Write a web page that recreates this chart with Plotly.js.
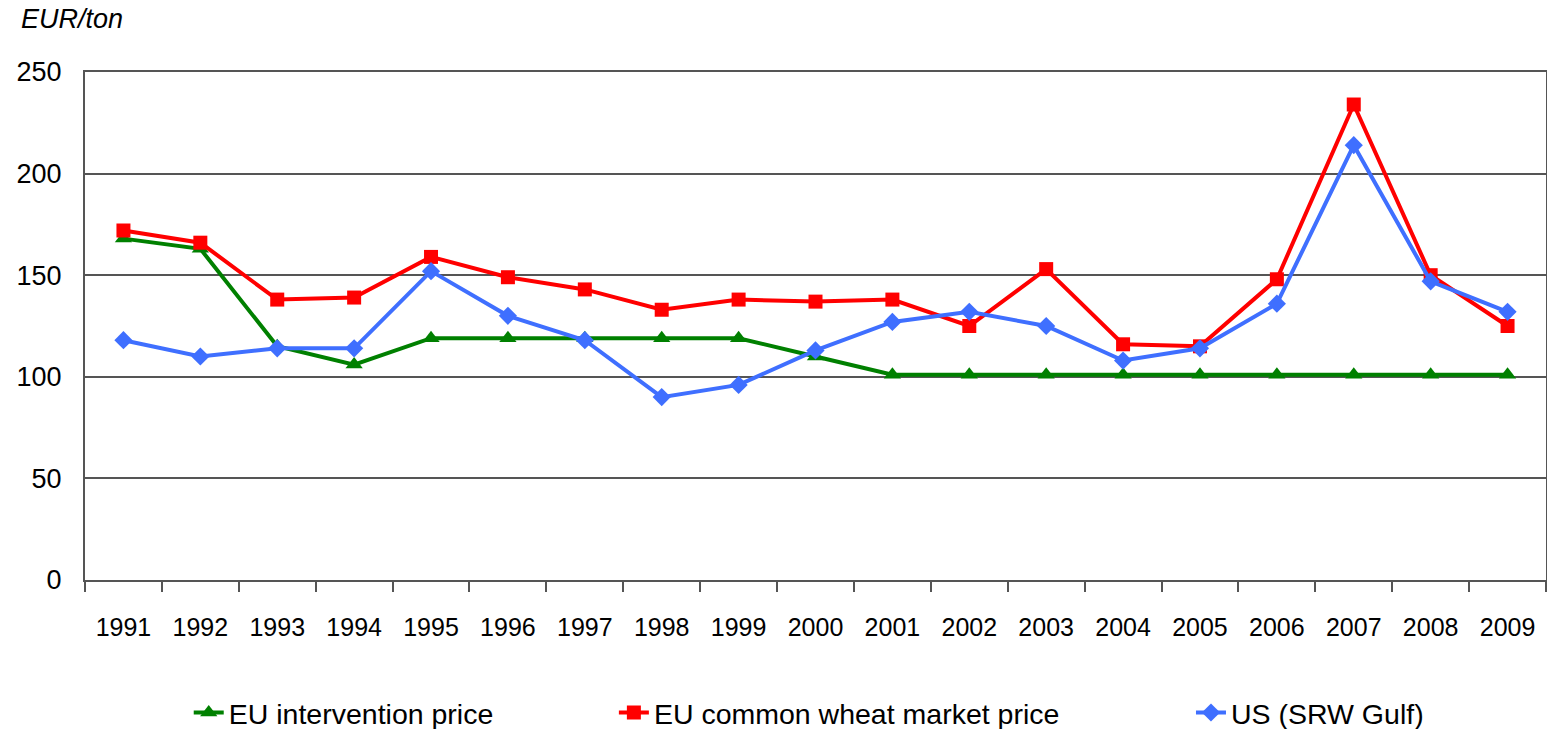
<!DOCTYPE html>
<html>
<head>
<meta charset="utf-8">
<script src="https://cdn.plot.ly/plotly-3.0.1.min.js"></script>
<style>
  html, body { margin: 0; padding: 0; background: #fff; }
  #chart { width: 1547px; height: 729px; }
</style>
</head>
<body>
<div id="chart"></div>
<script>
// years on the category axis
var years = ['1991', '1992', '1993', '1994', '1995', '1996', '1997', '1998', '1999', '2000',
             '2001', '2002', '2003', '2004', '2005', '2006', '2007', '2008', '2009'];

// EUR/ton
var euIntervention = [168, 163, 115, 106, 119, 119, 119, 119, 119, 110,
                      101, 101, 101, 101, 101, 101, 101, 101, 101];
var euMarket = [172, 166, 138, 139, 159, 149, 143, 133, 138, 137,
                138, 125, 153, 116, 115, 148, 234, 150, 125];
var usGulf = [118, 110, 114, 114, 152, 130, 118, 90, 96, 113,
              127, 132, 125, 108, 114, 136, 214, 147, 132];

var seriesNames = ['EU intervention price', 'EU common wheat market price', 'US (SRW Gulf)'];

var font = 'Liberation Sans, Arial, sans-serif';

var traces = [
    {
        x: years, y: euIntervention, name: seriesNames[0],
        type: 'scatter', mode: 'lines+markers',
        line: {color: '#008000', width: 4},
        marker: {symbol: 'triangle-up', size: 15, color: '#008000'},
        legend: 'legend'
    },
    {
        x: years, y: euMarket, name: seriesNames[1],
        type: 'scatter', mode: 'lines+markers',
        line: {color: '#ff0000', width: 4},
        marker: {symbol: 'square', size: 14, color: '#ff0000'},
        legend: 'legend2'
    },
    {
        x: years, y: usGulf, name: seriesNames[2],
        type: 'scatter', mode: 'lines+markers',
        line: {color: '#3f6fff', width: 4},
        marker: {symbol: 'diamond', size: 14, color: '#3f6fff'},
        legend: 'legend3'
    }
];

// each legend entry is placed on its own, as in the original
function legendAt(x) {
    return {
        orientation: 'h', x: x, y: 0.022, xref: 'paper', yref: 'container',
        xanchor: 'left', yanchor: 'middle',
        font: {family: font, size: 28.5, color: '#000'},
        bgcolor: 'rgba(0,0,0,0)', itemwidth: 30
    };
}

var layout = {
    width: 1547,
    height: 729,
    margin: {l: 85, r: 1, t: 72, b: 149},
    paper_bgcolor: '#fff',
    plot_bgcolor: '#fff',
    font: {family: font, size: 24, color: '#000'},
    showlegend: true,
    legend: legendAt(0.071),
    legend2: legendAt(0.362),
    legend3: legendAt(0.757),
    xaxis: {
        type: 'category',
        range: [-0.5, 18.5],
        automargin: false,
        tickson: 'boundaries',
        ticks: 'outside',
        ticklen: 10,
        tickwidth: 2,
        tickcolor: '#555',
        ticklabelstandoff: 24,
        showgrid: false,
        showline: true,
        linecolor: '#555',
        linewidth: 2,
        mirror: true,
        tickfont: {family: font, size: 25, color: '#000'},
        fixedrange: true
    },
    yaxis: {
        range: [0, 250],
        dtick: 50,
        automargin: false,
        ticks: '',
        ticklabelstandoff: 16,
        showgrid: true,
        gridcolor: '#555',
        gridwidth: 2,
        showline: true,
        linecolor: '#555',
        linewidth: 2,
        mirror: true,
        zeroline: false,
        tickfont: {family: font, size: 27, color: '#000'},
        fixedrange: true
    },
    annotations: [
        {
            text: '<i>EUR/ton</i>', xref: 'paper', yref: 'paper',
            x: -0.045, y: 1.105, xanchor: 'left', yanchor: 'middle',
            showarrow: false, font: {family: font, size: 27, color: '#000'}
        }
    ]
};

Plotly.newPlot('chart', traces, layout, {displayModeBar: false, staticPlot: true});
</script>
</body>
</html>
